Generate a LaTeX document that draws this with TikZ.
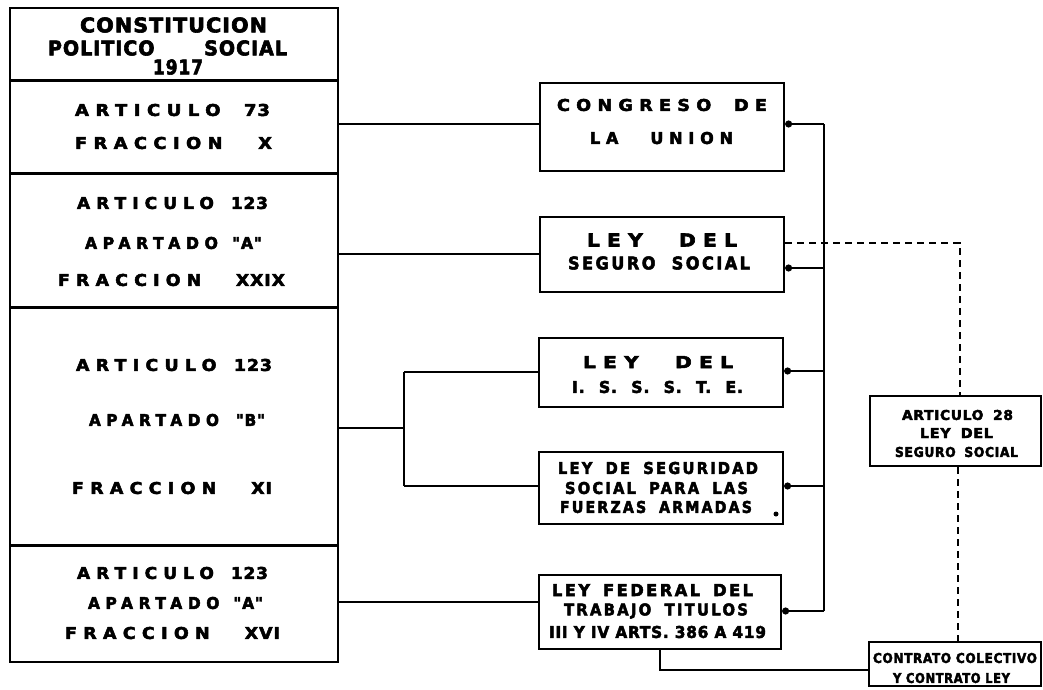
\documentclass[tikz,border=0pt]{standalone}
\usepackage{fontspec}
\usepackage{graphicx}
\setmainfont{DejaVu Sans}
\newfontfamily\fa{DejaVu Sans Bold}[LetterSpace=5,FakeBold=3]
\newfontfamily\fb{DejaVu Sans Bold}[LetterSpace=15,FakeBold=3]
\newfontfamily\fc{DejaVu Sans Bold}[LetterSpace=36,FakeBold=3]
\usetikzlibrary{arrows.meta,calc}
\newcommand{\tx}[3]{\resizebox{#1pt}{#2pt}{#3}}
\tikzset{
  box/.style={draw, line width=2.2pt, rectangle, inner sep=0pt},
  txt/.style={inner sep=0pt, anchor=center},
  sep/.style={line width=3pt},
  conn/.style={line width=2pt},
  dotto/.style={line width=2pt, -{Circle[length=7pt]}},
  dsh/.style={line width=2.6pt, dash pattern=on 7pt off 5pt},
}
\begin{document}
\begin{tikzpicture}[x=1pt,y=-1pt]
\useasboundingbox (0,0) rectangle (1043,689);
\fill[white] (0,0) rectangle (1043,689);

% left box
\node[box, minimum width=328pt, minimum height=654pt] (const) at (174,335) {};
\draw[sep] (10,80) -- (338,80);
\draw[sep] (10,173) -- (338,173);
\draw[sep] (10,307) -- (338,307);
\draw[sep] (10,545) -- (338,545);

\node[txt] (h1) at (173.5,25) {\tx{187}{15}{\fa CONSTITUCION}};
\node[txt] (h2) at (167.5,48) {\tx{239}{15}{\fa POLITICO\hspace{2.6em}SOCIAL}};
\node[txt] (h3) at (178,67) {\tx{50}{15}{\fa 1917}};

\node[txt] (a1) at (172.5,110) {\tx{195}{12}{{\fc ARTICULO}\hspace{1.3em}{\fa 73}}};
\node[txt] (a2) at (173.5,143) {\tx{197}{12}{{\fc FRACCION}\hspace{2em}{\fa X}}};

\node[txt] (b1) at (172.5,203) {\tx{191}{12}{{\fc ARTICULO}\hspace{1em}{\fa 123}}};
\node[txt] (b2) at (173.5,243) {\tx{177}{12}{{\fc APARTADO}\hspace{0.9em}{\fa "A"}}};
\node[txt] (b3) at (171.5,280) {\tx{227}{12}{{\fc FRACCION}\hspace{2em}{\fa XXIX}}};

\node[txt] (c1) at (174,365) {\tx{196}{12}{{\fc ARTICULO}\hspace{1em}{\fa 123}}};
\node[txt] (c2) at (177,420) {\tx{176}{12}{{\fc APARTADO}\hspace{1.1em}{\fa "B"}}};
\node[txt] (c3) at (172,488) {\tx{200}{12}{{\fc FRACCION}\hspace{2em}{\fa XI}}};

\node[txt] (d1) at (172.5,573) {\tx{191}{12}{{\fc ARTICULO}\hspace{1em}{\fa 123}}};
\node[txt] (d2) at (175.5,603) {\tx{175}{12}{{\fc APARTADO}\hspace{0.9em}{\fa "A"}}};
\node[txt] (d3) at (172.5,633) {\tx{215}{12}{{\fc FRACCION}\hspace{2em}{\fa XVI}}};

% middle boxes
\node[box, minimum width=244pt, minimum height=88pt] (cong) at (662,127) {};
\node[txt] (r1) at (662,105) {\tx{210}{12}{{\fc CONGRESO}\hspace{1.3em}{\fc DE}}};
\node[txt] (r2) at (661.5,138) {\tx{143}{12}{{\fc LA}\hspace{2em}{\fc UNION}}};

\node[box, minimum width=244pt, minimum height=75pt] (seg) at (662,254.5) {};
\node[txt] (r3) at (662,240) {\tx{150}{13}{{\fc LEY}\hspace{1.8em}{\fc DEL}}};
\node[txt] (r4) at (659,263) {\tx{182}{13}{{\fb SEGURO}\hspace{1em}{\fb SOCIAL}}};

\node[box, minimum width=244pt, minimum height=69pt] (iss) at (661,372.5) {};
\node[txt] (r5) at (658,362) {\tx{150}{12}{{\fc LEY}\hspace{1.8em}{\fc DEL}}};
\node[txt] (r6) at (657.5,387) {\tx{171}{12}{\fa I.\hspace{0.9em}S.\hspace{0.9em}S.\hspace{0.9em}S.\hspace{0.9em}T.\hspace{0.9em}E.}};

\node[box, minimum width=244pt, minimum height=72pt] (fza) at (661,488) {};
\node[txt] (r7) at (658,468) {\tx{200}{12}{\fb LEY\hspace{0.9em}DE\hspace{0.9em}SEGURIDAD}};
\node[txt] (r8) at (656.5,488) {\tx{183}{12}{\fb SOCIAL\hspace{0.9em}PARA\hspace{0.9em}LAS}};
\node[txt] (r9) at (656,507) {\tx{192}{12}{\fb FUERZAS\hspace{0.9em}ARMADAS}};
\fill (776,514) circle (2.5pt);

\node[box, minimum width=242pt, minimum height=74pt] (fed) at (660,612) {};
\node[txt] (r10) at (652.5,590) {\tx{201}{12}{\fb LEY\hspace{0.8em}FEDERAL\hspace{0.8em}DEL}};
\node[txt] (r11) at (656,611) {\tx{184}{12}{\fb TRABAJO\hspace{0.9em}TITULOS}};
\node[txt] (r12) at (657.5,632) {\tx{217}{12}{\fa III Y IV ARTS. 386 A 419}};

% right boxes
\node[box, minimum width=171pt, minimum height=70pt] (art) at (955.5,431) {};
\node[txt] (s1) at (957.5,415) {\tx{111}{10}{\fa ARTICULO\hspace{0.7em}28}};
\node[txt] (s2) at (956.5,433) {\tx{73}{10}{\fa LEY\hspace{0.7em}DEL}};
\node[txt] (s3) at (956.5,452) {\tx{123}{10}{\fa SEGURO\hspace{0.7em}SOCIAL}};

\node[box, minimum width=172pt, minimum height=44pt] (contr) at (955,664) {};
\node[txt] (t1) at (955,658) {\tx{164}{10}{\fa CONTRATO COLECTIVO}};
\node[txt] (t2) at (951.5,678) {\tx{117}{10}{\fa Y CONTRATO LEY}};

% connectors from constitution
\coordinate (k1) at (0,124);
\coordinate (k2) at (0,254);
\coordinate (k3) at (0,428);
\coordinate (k4) at (0,602);
\coordinate (j) at (404,428);
\coordinate (jt) at (404,372);
\coordinate (jb) at (404,486);
\draw[conn] (const.east |- k1) -- (cong.west |- k1);
\draw[conn] (const.east |- k2) -- (seg.west |- k2);
\draw[conn] (const.east |- k3) -- (j);
\draw[conn] (jt) -- (jb);
\draw[conn] (jt) -- (iss.west |- jt);
\draw[conn] (jb) -- (fza.west |- jb);
\draw[conn] (const.east |- k4) -- (fed.west |- k4);

% bus
\coordinate (bt) at (824,124);
\coordinate (b2) at (824,268);
\coordinate (b3) at (824,371);
\coordinate (b4) at (824,486);
\coordinate (bb) at (824,611);
\draw[conn] (bt) -- (bb);
\draw[dotto] (bt) -- (cong.east |- bt);
\draw[dotto] (b2) -- (seg.east |- b2);
\draw[dotto] (b3) -- (iss.east |- b3);
\draw[dotto] (b4) -- (fza.east |- b4);
\draw[dotto] (bb) -- (fed.east |- bb);

% dashed
\coordinate (dn) at (960,243);
\coordinate (dm) at (958,0);
\draw[dsh] (seg.east |- dn) -- (dn) -- (dn |- art.north);
\draw[dsh] (art.south -| dm) -- (contr.north -| dm);

% bottom link
\coordinate (lb) at (660,670);
\draw[conn] (fed.south -| lb) -- (lb) -- (contr.west |- lb);
\end{tikzpicture}
\end{document}
